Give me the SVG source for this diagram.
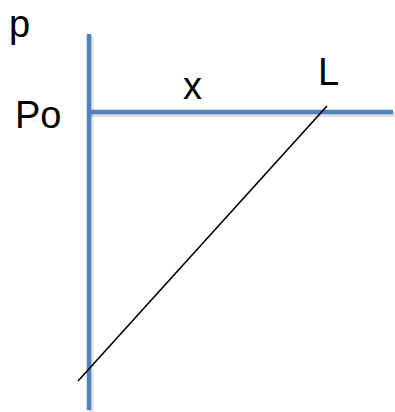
<svg xmlns="http://www.w3.org/2000/svg" width="395" height="412" viewBox="0 0 395 412">
<style>
.axis{stroke:#4F81BD;stroke-width:4.5;fill:none}
.shadow{stroke:#000;stroke-opacity:0.12;stroke-width:5;fill:none}
.lbl{font-family:"Liberation Sans",Arial,sans-serif;font-size:38px;fill:#000}
</style>
<rect width="395" height="412" fill="#fff"/>
<g id="connectors">
<line class="shadow" x1="91" y1="36" x2="91" y2="412"/>
<line class="shadow" x1="91" y1="114.5" x2="395" y2="114.5"/>
<line id="vaxis" class="axis" x1="89" y1="34" x2="89" y2="410"/>
<line id="haxis" class="axis" x1="89" y1="112" x2="393" y2="112"/>
<line id="diag" x1="327" y1="106" x2="78" y2="381" stroke="#000" stroke-width="1.6"/>
</g>
<g id="label-p"><text class="lbl" x="9" y="37">p</text></g>
<g id="label-Po"><text class="lbl" x="15" y="128">Po</text></g>
<g id="label-x"><text class="lbl" x="183" y="99">x</text></g>
<g id="label-L"><text class="lbl" x="318" y="85">L</text></g>
</svg>
